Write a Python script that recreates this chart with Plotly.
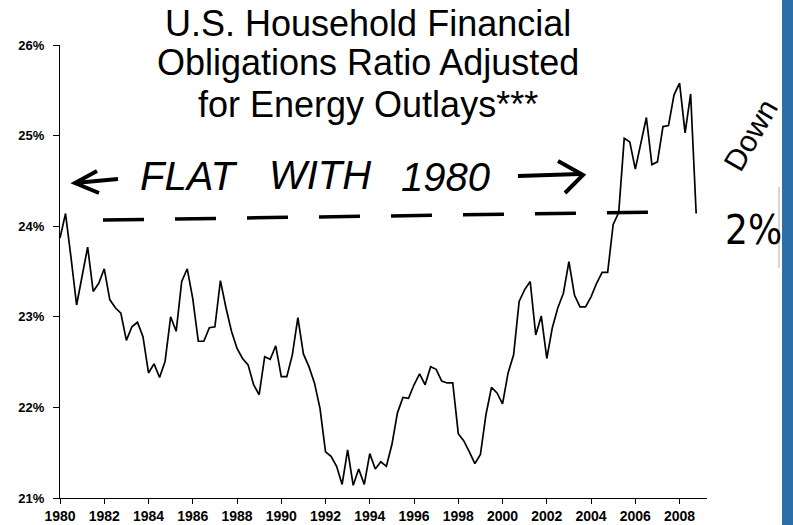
import plotly.graph_objects as go

# ---------------- data (quarterly, 1980Q1 .. 2008Q4) ----------------
years = list(range(1980, 2009))
quarter_offsets = [0.0, 0.25, 0.5, 0.75]

ratio_pct = [
    23.87, 24.14, 23.65, 23.13,   # 1980
    23.45, 23.77, 23.28, 23.37,   # 1981
    23.53, 23.19, 23.10, 23.04,   # 1982
    22.74, 22.89, 22.94, 22.78,   # 1983
    22.38, 22.48, 22.33, 22.51,   # 1984
    23.00, 22.84, 23.39, 23.53,   # 1985
    23.20, 22.73, 22.73, 22.88,   # 1986
    22.89, 23.40, 23.10, 22.84,   # 1987
    22.65, 22.54, 22.47, 22.25,   # 1988
    22.14, 22.56, 22.53, 22.68,   # 1989
    22.34, 22.34, 22.58, 22.99,   # 1990
    22.59, 22.45, 22.27, 21.99,   # 1991
    21.51, 21.46, 21.35, 21.15,   # 1992
    21.53, 21.14, 21.32, 21.15,   # 1993
    21.49, 21.32, 21.40, 21.35,   # 1994
    21.59, 21.94, 22.11, 22.10,   # 1995
    22.25, 22.37, 22.25, 22.45,   # 1996
    22.42, 22.29, 22.27, 22.27,   # 1997
    21.71, 21.63, 21.51, 21.38,   # 1998
    21.48, 21.92, 22.22, 22.16,   # 1999
    22.04, 22.38, 22.58, 23.17,   # 2000
    23.30, 23.39, 22.80, 23.01,   # 2001
    22.54, 22.88, 23.10, 23.26,   # 2002
    23.61, 23.24, 23.11, 23.11,   # 2003
    23.22, 23.37, 23.49, 23.49,   # 2004
    24.02, 24.15, 24.97, 24.93,   # 2005
    24.63, 24.90, 25.20, 24.68,   # 2006
    24.71, 25.10, 25.11, 25.45,   # 2007
    25.58, 25.03, 25.46, 24.14,   # 2008
]

x_tick_years = list(range(1980, 2009, 2))
y_tick_values = [21, 22, 23, 24, 25, 26]
y_tick_labels = ["21%", "22%", "23%", "24%", "25%", "26%"]

title_lines = ["U.S. Household Financial", "Obligations Ratio Adjusted", "for Energy Outlays***"]

quarter_x = [y + q for y in years for q in quarter_offsets]

# ---------------- layout helpers (pixel -> paper) ----------------
W, H = 793, 525
ML, MR, MT, MB = 60, 86, 45, 27
PW, PH = W - ML - MR, H - MT - MB


def px(x):
    return (x - ML) / PW


def py(y):
    return (H - MB - y) / PH


FONT = "Liberation Sans, Arial, sans-serif"
HAND = "Liberation Sans, Arial, sans-serif"

fig = go.Figure()
fig.add_trace(go.Scatter(
    x=quarter_x, y=ratio_pct, mode="lines",
    line=dict(color="black", width=1.7),
    hoverinfo="skip", showlegend=False,
))

annotations = []
title_centers = [24, 63, 104]
for line, yc in zip(title_lines, title_centers):
    annotations.append(dict(
        text=line, xref="paper", yref="paper", x=px(368), y=py(yc),
        xanchor="center", yanchor="middle", showarrow=False,
        font=dict(family=FONT, size=36, color="black"),
    ))

for word, xc, yc in [("FLAT", 188, 176), ("WITH", 320, 175), ("1980", 445, 177)]:
    annotations.append(dict(
        text=word, xref="paper", yref="paper", x=px(xc), y=py(yc),
        xanchor="center", yanchor="middle", showarrow=False,
        font=dict(family=HAND, size=40, color="black", style="italic"),
    ))

annotations.append(dict(
    text="Down", xref="paper", yref="paper", x=px(750), y=py(135),
    xanchor="center", yanchor="middle", showarrow=False, textangle=-60,
    font=dict(family=HAND, size=30, color="black"),
))
annotations.append(dict(
    text="2%", xref="paper", yref="paper", x=px(753), y=py(230),
    xanchor="center", yanchor="middle", showarrow=False,
    font=dict(family="Liberation Sans Narrow, Arial Narrow, DejaVu Sans Condensed, Liberation Sans",
              size=40, color="black"),
))


def path(points):
    return "M " + " L ".join(f"{px(a):.5f},{py(b):.5f}" for a, b in points)


shapes = [
    # blue side bar
    dict(type="rect", xref="paper", yref="paper", x0=px(782), x1=px(805),
         y0=py(535), y1=py(-10), fillcolor="#2C6FA8", line=dict(width=0), layer="above"),
    # faint scan edge
    dict(type="line", xref="paper", yref="paper", x0=px(779), x1=px(779),
         y0=py(187), y1=py(268), line=dict(color="#c8c8c8", width=1.5)),
    # dashed "flat" line
    dict(type="line", xref="paper", yref="paper", x0=px(103), y0=py(220),
         x1=px(662), y1=py(212), line=dict(color="black", width=3.5, dash="41px,31px")),
    # left arrow
    dict(type="path", xref="paper", yref="paper", path=path([(118, 179), (75, 183)]),
         line=dict(color="black", width=4)),
    dict(type="path", xref="paper", yref="paper", path=path([(97, 171), (75, 183), (99, 193)]),
         line=dict(color="black", width=4)),
    # right arrow
    dict(type="path", xref="paper", yref="paper", path=path([(518, 176), (580, 174)]),
         line=dict(color="black", width=4)),
    dict(type="path", xref="paper", yref="paper", path=path([(558, 161), (583, 175), (565, 193)]),
         line=dict(color="black", width=4)),
]

fig.update_layout(
    width=W, height=H,
    margin=dict(l=ML, r=MR, t=MT, b=MB, pad=0, autoexpand=False),
    paper_bgcolor="white", plot_bgcolor="white",
    showlegend=False,
    annotations=annotations,
    shapes=shapes,
    xaxis=dict(
        range=[1980, 2009.24], tickmode="array", tickvals=x_tick_years,
        ticktext=[str(v) for v in x_tick_years],
        showline=True, linecolor="black", linewidth=1.3,
        ticks="outside", ticklen=5, tickwidth=1.3, tickcolor="black",
        ticklabelstandoff=0, automargin=False,
        showgrid=False, zeroline=False,
        tickfont=dict(family=FONT, size=14, color="black", weight="bold"),
    ),
    yaxis=dict(
        range=[21, 26], tickmode="array", tickvals=y_tick_values, ticktext=y_tick_labels,
        showline=True, linecolor="black", linewidth=1.3,
        ticks="outside", ticklen=6, tickwidth=1.3, tickcolor="black",
        ticklabelstandoff=6, automargin=False,
        showgrid=False, zeroline=False,
        tickfont=dict(family=FONT, size=13, color="black", weight="bold"),
    ),
)

fig.write_html(
    "out.html",
    config={"displayModeBar": False},
    post_script="document.body.style.margin='0';document.body.style.overflow='hidden';",
)
